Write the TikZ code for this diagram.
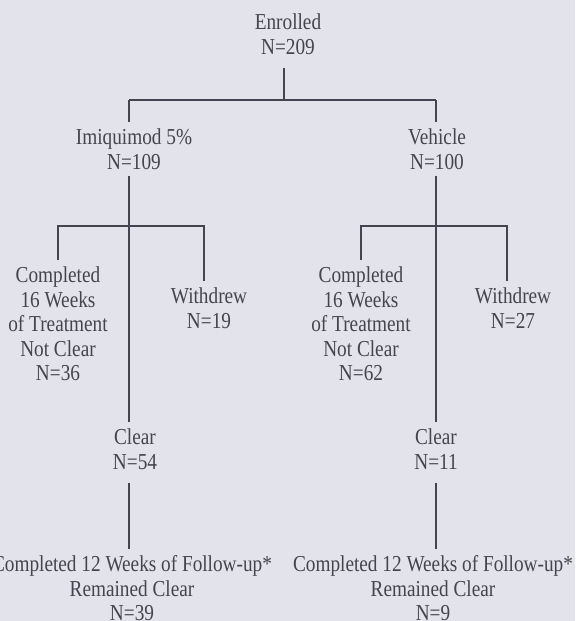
\documentclass[tikz,border=0pt]{standalone}
\usepackage{fontspec}
\setmainfont{Liberation Serif}[FakeStretch=0.845]
\definecolor{scan}{RGB}{227,227,235}
\definecolor{ink}{RGB}{70,68,80}

\begin{document}
\begin{tikzpicture}[x=0.5pt,y=-0.5pt,line width=0.7pt,color=ink,
  lbl/.style={align=center,anchor=north,inner xsep=0pt,inner ysep=3pt,font=\fontsize{11.4}{12.25}\selectfont}]
\useasboundingbox (0,0) rectangle (575,621);\fill[scan] (0,0) rectangle (575,621);
% boxes
\node[lbl] (enr) at (288,7){Enrolled\\N=209};
\node[lbl] (armA) at (134,122){Imiquimod 5\%\\N=109};\node[lbl] (armB) at (437,122){Vehicle\\N=100};
\node[lbl] (cmpA) at (58,260){Completed\\16 Weeks\\of Treatment\\Not Clear\\N=36};\node[lbl] (wdA) at (209,281){Withdrew\\N=19};
\node[lbl] (cmpB) at (361,260){Completed\\16 Weeks\\of Treatment\\Not Clear\\N=62};\node[lbl] (wdB) at (513,281){Withdrew\\N=27};
\node[lbl] (clrA) at (135,422){Clear\\N=54};\node[lbl] (clrB) at (436,422){Clear\\N=11};
\node[lbl] (fuA) at (132,549){Completed 12 Weeks of Follow-up*\\Remained Clear\\N=39};
\node[lbl] (fuB) at (433,549){Completed 12 Weeks of Follow-up*\\Remained Clear\\N=9};
% lines
\coordinate (mid) at (284,100);\coordinate (tA) at (129,100);\coordinate (tB) at (436,100);
\foreach \i/\l/\r in {A/58/204,B/361/507}{\coordinate (l\i) at (\l,226);\coordinate (r\i) at (\r,226);}
\draw[shorten <=3.5pt] (enr.south -| mid)--(mid);\draw (tA)--(tB);
\foreach \i in {A,B}{\draw (t\i)--(arm\i.north -| t\i);\draw (arm\i.south -| t\i)--(clr\i.north -| t\i);
  \draw (cmp\i.north -| l\i)--(l\i)--(r\i)--(wd\i.north -| r\i);\draw[shorten <=3.5pt] (clr\i.south -| t\i)--(fu\i.north -| t\i);}
\end{tikzpicture}
\end{document}
